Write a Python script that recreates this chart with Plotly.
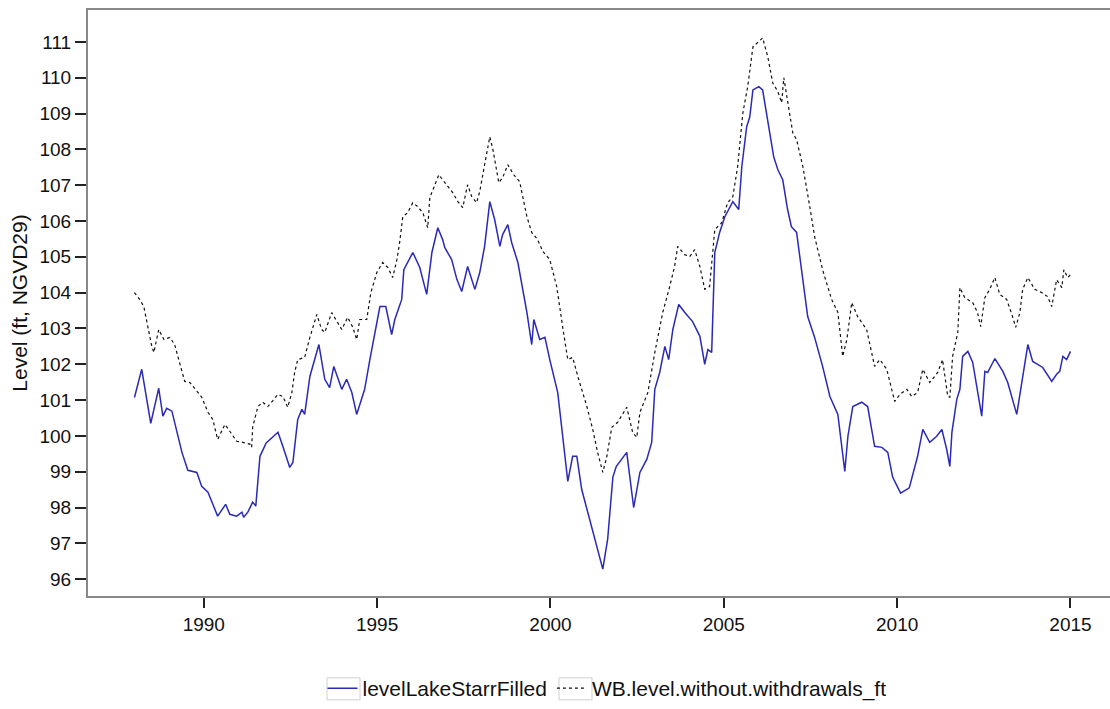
import plotly.graph_objects as go

# levelLakeStarrFilled (decimal year, ft)
blue_t = [1988.00, 1988.21, 1988.47, 1988.70, 1988.82, 1988.93, 1989.08, 1989.37, 1989.54, 1989.80,
          1989.94, 1990.12, 1990.40, 1990.63, 1990.75, 1990.95, 1991.10, 1991.15, 1991.27, 1991.41,
          1991.50, 1991.62, 1991.80, 1992.14, 1992.28, 1992.48, 1992.57, 1992.71, 1992.83, 1992.91,
          1993.06, 1993.32, 1993.49, 1993.63, 1993.75, 1993.98, 1994.12, 1994.27, 1994.41, 1994.64,
          1994.79, 1995.08, 1995.25, 1995.42, 1995.51, 1995.71, 1995.77, 1996.03, 1996.23, 1996.43,
          1996.58, 1996.75, 1996.89, 1996.95, 1997.15, 1997.30, 1997.44, 1997.61, 1997.82, 1997.96,
          1998.10, 1998.25, 1998.39, 1998.54, 1998.62, 1998.77, 1998.88, 1999.06, 1999.32, 1999.46,
          1999.52, 1999.69, 1999.84, 1999.98, 2000.21, 2000.50, 2000.64, 2000.76, 2000.90, 2001.13,
          2001.34, 2001.51, 2001.65, 2001.80, 2001.90, 2002.20, 2002.40, 2002.58, 2002.78, 2002.92,
          2003.01, 2003.15, 2003.30, 2003.41, 2003.53, 2003.70, 2003.87, 2004.10, 2004.31, 2004.45,
          2004.54, 2004.65, 2004.74, 2004.88, 2005.03, 2005.17, 2005.26, 2005.43, 2005.52, 2005.66,
          2005.75, 2005.84, 2006.01, 2006.12, 2006.27, 2006.44, 2006.56, 2006.70, 2006.84, 2006.95,
          2007.10, 2007.42, 2007.62, 2007.85, 2008.06, 2008.29, 2008.49, 2008.58, 2008.72, 2008.98,
          2009.15, 2009.35, 2009.56, 2009.73, 2009.87, 2010.10, 2010.35, 2010.59, 2010.74, 2010.94,
          2011.14, 2011.29, 2011.43, 2011.52, 2011.58, 2011.72, 2011.81, 2011.89, 2012.04, 2012.18,
          2012.44, 2012.53, 2012.61, 2012.82, 2013.05, 2013.19, 2013.45, 2013.62, 2013.77, 2013.91,
          2014.20, 2014.46, 2014.60, 2014.69, 2014.78, 2014.89, 2015.00]
blue_v = [101.07, 101.86, 100.35, 101.33, 100.55, 100.77, 100.69, 99.54, 99.04, 98.98,
          98.59, 98.43, 97.76, 98.09, 97.81, 97.76, 97.87, 97.73, 97.87, 98.15,
          98.04, 99.43, 99.80, 100.10, 99.71, 99.12, 99.26, 100.46, 100.74, 100.60,
          101.66, 102.55, 101.58, 101.35, 101.94, 101.30, 101.58, 101.21, 100.60, 101.30,
          102.13, 103.61, 103.61, 102.83, 103.25, 103.81, 104.64, 105.12, 104.70, 103.95,
          105.12, 105.81, 105.48, 105.26, 104.92, 104.37, 104.03, 104.73, 104.09, 104.56,
          105.29, 106.54, 106.04, 105.29, 105.62, 105.90, 105.40, 104.84, 103.45, 102.55,
          103.25, 102.69, 102.75, 102.13, 101.21, 98.73, 99.43, 99.43, 98.51, 97.67,
          96.98, 96.28, 97.12, 98.85, 99.15, 99.54, 98.00, 98.98, 99.35, 99.82,
          101.30, 101.77, 102.50, 102.13, 102.97, 103.67, 103.45, 103.19, 102.78, 102.00,
          102.41, 102.33, 105.12, 105.68, 106.12, 106.40, 106.54, 106.32, 107.52, 108.63,
          108.91, 109.66, 109.75, 109.66, 108.83, 107.79, 107.43, 107.15, 106.32, 105.84,
          105.68, 103.33, 102.75, 101.94, 101.10, 100.60, 99.01, 99.99, 100.82, 100.94,
          100.82, 99.71, 99.68, 99.54, 98.85, 98.40, 98.55, 99.43, 100.18, 99.82,
          99.99, 100.18, 99.62, 99.15, 100.10, 101.02, 101.30, 102.22, 102.36, 102.05,
          100.55, 101.80, 101.77, 102.16, 101.80, 101.49, 100.60, 101.66, 102.55, 102.08,
          101.91, 101.52, 101.72, 101.80, 102.22, 102.13, 102.36]

# WB.level.without.withdrawals_ft (decimal year, ft)
black_t = [1988.00, 1988.15, 1988.27, 1988.36, 1988.50, 1988.56, 1988.64, 1988.70, 1988.85, 1989.02,
           1989.16, 1989.31, 1989.45, 1989.60, 1989.80, 1989.94, 1990.12, 1990.26, 1990.40, 1990.61,
           1990.75, 1990.95, 1991.12, 1991.33, 1991.38, 1991.41, 1991.56, 1991.70, 1991.85, 1991.96,
           1992.14, 1992.28, 1992.42, 1992.54, 1992.62, 1992.71, 1992.91, 1993.06, 1993.26, 1993.40,
           1993.49, 1993.69, 1993.87, 1993.98, 1994.15, 1994.30, 1994.41, 1994.50, 1994.70, 1994.82,
           1994.99, 1995.16, 1995.31, 1995.45, 1995.57, 1995.65, 1995.74, 1995.88, 1996.03, 1996.17,
           1996.32, 1996.46, 1996.52, 1996.66, 1996.78, 1996.89, 1997.01, 1997.18, 1997.33, 1997.47,
           1997.61, 1997.73, 1997.87, 1997.96, 1998.10, 1998.25, 1998.34, 1998.51, 1998.62, 1998.77,
           1998.94, 1999.11, 1999.32, 1999.46, 1999.63, 1999.78, 1999.98, 2000.18, 2000.35, 2000.50,
           2000.64, 2000.79, 2001.05, 2001.22, 2001.36, 2001.51, 2001.62, 2001.77, 2001.94, 2002.20,
           2002.37, 2002.49, 2002.58, 2002.81, 2003.01, 2003.24, 2003.44, 2003.58, 2003.67, 2003.87,
           2004.02, 2004.16, 2004.31, 2004.45, 2004.59, 2004.74, 2004.94, 2005.11, 2005.26, 2005.40,
           2005.55, 2005.69, 2005.84, 2005.98, 2006.12, 2006.27, 2006.41, 2006.56, 2006.67, 2006.73,
           2006.84, 2006.99, 2007.10, 2007.28, 2007.48, 2007.62, 2007.85, 2008.11, 2008.29, 2008.43,
           2008.55, 2008.69, 2008.86, 2009.12, 2009.35, 2009.50, 2009.70, 2009.93, 2010.08, 2010.28,
           2010.42, 2010.59, 2010.74, 2010.94, 2011.17, 2011.31, 2011.46, 2011.52, 2011.60, 2011.75,
           2011.81, 2011.95, 2012.18, 2012.32, 2012.41, 2012.53, 2012.67, 2012.82, 2012.96, 2013.16,
           2013.31, 2013.42, 2013.54, 2013.62, 2013.77, 2013.97, 2014.17, 2014.34, 2014.46, 2014.60,
           2014.75, 2014.81, 2014.92, 2015.00]
black_v = [104.00, 103.81, 103.61, 103.17, 102.50, 102.33, 102.69, 102.97, 102.69, 102.75,
           102.55, 102.05, 101.52, 101.49, 101.24, 101.08, 100.66, 100.46, 99.90, 100.32,
           100.13, 99.85, 99.82, 99.77, 99.68, 100.24, 100.82, 100.94, 100.82, 100.96,
           101.16, 101.10, 100.80, 101.21, 101.77, 102.13, 102.19, 102.75, 103.39, 102.97,
           102.89, 103.44, 103.17, 102.97, 103.31, 103.03, 102.69, 103.25, 103.25, 104.00,
           104.56, 104.84, 104.70, 104.42, 104.92, 105.40, 106.12, 106.23, 106.51, 106.40,
           106.23, 105.81, 106.65, 107.01, 107.29, 107.15, 107.01, 106.79, 106.54, 106.37,
           107.01, 106.68, 106.51, 106.82, 107.57, 108.35, 107.99, 107.07, 107.21, 107.57,
           107.29, 107.10, 106.12, 105.68, 105.48, 105.15, 104.92, 104.17, 103.05, 102.13,
           102.19, 101.66, 100.82, 100.18, 99.54, 98.98, 99.40, 100.24, 100.38, 100.80,
           100.10, 99.96, 100.66, 101.21, 102.33, 103.45, 104.17, 104.73, 105.29, 105.06,
           105.01, 105.20, 104.73, 104.09, 104.17, 105.76, 105.95, 106.51, 106.68, 107.52,
           109.02, 109.75, 110.86, 111.00, 111.11, 110.58, 109.86, 109.61, 109.30, 110.00,
           109.30, 108.46, 108.27, 107.52, 106.40, 105.56, 104.64, 103.81, 103.45, 102.22,
           102.69, 103.72, 103.33, 102.97, 101.94, 102.13, 101.86, 100.96, 101.16, 101.30,
           101.10, 101.21, 101.86, 101.49, 101.77, 102.13, 101.10, 101.08, 102.22, 102.89,
           104.14, 103.86, 103.72, 103.44, 103.05, 103.86, 104.09, 104.42, 103.95, 103.81,
           103.39, 103.03, 103.44, 104.09, 104.42, 104.09, 104.00, 103.89, 103.61, 104.36,
           104.14, 104.64, 104.42, 104.50]

x_ticks = [1990, 1995, 2000, 2005, 2010, 2015]
y_ticks = list(range(96, 112))

FONT = "Liberation Sans, Arial, sans-serif"

fig = go.Figure()
fig.add_trace(go.Scatter(x=blue_t, y=blue_v, mode="lines", name="levelLakeStarrFilled",
                         line=dict(color="#2a2ab8", width=1.5)))
fig.add_trace(go.Scatter(x=black_t, y=black_v, mode="lines", name="WB.level.without.withdrawals_ft",
                         line=dict(color="#111111", width=1.2, dash="dot")))

# light key boxes around the legend samples (decoration, paper coords)
PLOT_W, PLOT_H, L, B_EDGE = 1022.0, 587.0, 88.0, 597.0
def px_x(p):
    return (p - L) / PLOT_W
def px_y(p):
    return (B_EDGE - p) / PLOT_H
for bx0, bx1 in [(327, 360), (559, 592)]:
    fig.add_shape(type="rect", xref="paper", yref="paper",
                  x0=px_x(bx0), x1=px_x(bx1), y0=px_y(701), y1=px_y(679),
                  line=dict(color="#cfcfcf", width=1), fillcolor="rgba(0,0,0,0)", layer="below")

fig.update_layout(
    width=1110, height=709,
    margin=dict(l=88, r=0, t=10, b=112),
    paper_bgcolor="white", plot_bgcolor="white",
    font=dict(family=FONT, size=19, color="#111111"),
    showlegend=True,
    legend=dict(orientation="h", x=0.5 + 8 / 1022, xanchor="center", y=-0.158, yanchor="middle",
                font=dict(size=21), itemwidth=30, tracegroupgap=0,
                bgcolor="rgba(0,0,0,0)"),
    xaxis=dict(range=[1986.66, 2016.14], tickvals=x_ticks, ticktext=[str(v) for v in x_ticks],
               showgrid=False, zeroline=False, showline=True, linecolor="#888888", linewidth=2,
               mirror=True, ticks="outside", ticklen=10, tickwidth=2, tickcolor="#222222",
               tickfont=dict(size=19)),
    yaxis=dict(range=[95.53, 111.89], tickvals=y_ticks, ticktext=[str(v) for v in y_ticks],
               showgrid=False, zeroline=False, showline=True, linecolor="#888888", linewidth=2,
               ticks="outside", ticklen=11, tickwidth=2, tickcolor="#222222",
               tickfont=dict(size=19),
               title=dict(text="Level (ft, NGVD29)", font=dict(size=21), standoff=6)),
)

fig.write_html("out.html")
